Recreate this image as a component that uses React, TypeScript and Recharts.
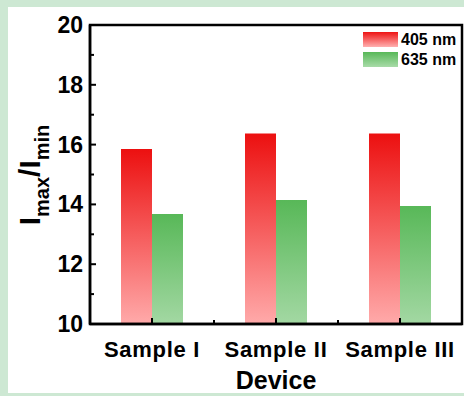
import React from "react"
import { Bar, BarChart, XAxis, YAxis } from "recharts"

const devices = ["Sample I", "Sample II", "Sample III"]
const ratio405 = [15.85, 16.37, 16.37]
const ratio635 = [13.68, 14.15, 13.95]
const yTicks = [10, 11, 12, 13, 14, 15, 16, 17, 18, 19, 20]

const data = devices.map((device, i) => ({
  device,
  nm405: ratio405[i],
  nm635: ratio635[i],
}))

const FONT = "'Liberation Sans', Arial, sans-serif"
const PLOT = { left: 82, top: 18, width: 372, height: 299 }
const BAND = PLOT.width / devices.length

function YTick(props: any) {
  const { x, y, payload } = props
  const major = payload.value % 2 === 0
  return (
    <g>
      <line x1={x} y1={y} x2={x + (major ? 6 : 4)} y2={y} stroke="#000" strokeWidth={2} />
      {major && (
        <text x={x - 7} y={y} dy={8} textAnchor="end" fontFamily={FONT} fontWeight="bold" fontSize={23} fill="#000">
          {payload.value}
        </text>
      )}
    </g>
  )
}

function XTick(props: any) {
  const { x, y, payload, index } = props
  return (
    <g>
      <line x1={x} y1={y} x2={x} y2={y - 6} stroke="#000" strokeWidth={2} />
      {index < devices.length - 1 && (
        <line x1={x + BAND / 2} y1={y} x2={x + BAND / 2} y2={y - 4} stroke="#000" strokeWidth={2} />
      )}
      <text x={x} y={y + 33} textAnchor="middle" fontFamily={FONT} fontWeight="bold" fontSize={22} letterSpacing={0.7} fill="#000">
        {payload.value}
      </text>
    </g>
  )
}

// y title plus the closed plot frame (top and right edges)
function YTitle() {
  return (
    <g>
      <rect
        x={PLOT.left}
        y={PLOT.top}
        width={PLOT.width}
        height={PLOT.height}
        fill="none"
        stroke="#000"
        strokeWidth={2.5}
      />
      <text transform="translate(32,168) rotate(-90)" textAnchor="middle" fontFamily={FONT} fontWeight="bold" fontSize={30} fill="#000">
        <tspan>I</tspan>
        <tspan fontSize={20} dy={9}>max</tspan>
        <tspan dy={-9}>/I</tspan>
        <tspan fontSize={20} dy={9}>min</tspan>
      </text>
    </g>
  )
}

function LegendBox() {
  const items = [
    { label: "405 nm", bg: "linear-gradient(#ee1414, #ffb0b0)" },
    { label: "635 nm", bg: "linear-gradient(#58b858, #a8dba8)" },
  ]
  return (
    <div style={{ position: "absolute", left: 355, top: 25, fontFamily: FONT, fontWeight: "bold", fontSize: 16, color: "#000" }}>
      {items.map((it) => (
        <div key={it.label} style={{ display: "flex", alignItems: "center", height: 15, marginBottom: 5 }}>
          <div style={{ width: 35, height: 15, background: it.bg, marginRight: 3 }} />
          <span style={{ lineHeight: "15px" }}>{it.label}</span>
        </div>
      ))}
    </div>
  )
}

export default function App() {
  return (
    <div style={{ position: "absolute", left: 0, top: 0, width: 464, height: 396, background: "#cde8d3" }}>
      <div style={{ position: "absolute", left: 8, top: 7, width: 456, height: 386, background: "#fff" }}>
        <BarChart
          width={456}
          height={386}
          data={data}
          margin={{ top: 18, right: 2, bottom: 0, left: 0 }}
          barCategoryGap="25%"
          barGap={0}
        >
          <defs>
            <linearGradient id="red" x1="0" y1="0" x2="0" y2="1">
              <stop offset="0%" stopColor="#ec1010" />
              <stop offset="100%" stopColor="#ffaaaa" />
            </linearGradient>
            <linearGradient id="green" x1="0" y1="0" x2="0" y2="1">
              <stop offset="0%" stopColor="#58b858" />
              <stop offset="100%" stopColor="#a3d8a3" />
            </linearGradient>
          </defs>
          <XAxis
            dataKey="device"
            height={69}
            tickSize={0}
            tickMargin={0}
            tickLine={false}
            axisLine={{ stroke: "#000", strokeWidth: 2.5 }}
            tick={<XTick />}
            interval={0}
            label={{ value: "Device", position: "insideBottom", offset: 4, fontFamily: FONT, fontWeight: "bold", fontSize: 25, fill: "#000" }}
          />
          <YAxis
            width={82}
            domain={[10, 20]}
            ticks={yTicks}
            allowDataOverflow
            interval={0}
            tickSize={0}
            tickMargin={0}
            tickLine={false}
            axisLine={{ stroke: "#000", strokeWidth: 2.5 }}
            tick={<YTick />}
            label={<YTitle />}
          />
          <Bar dataKey="nm405" name="405 nm" fill="url(#red)" isAnimationActive={false} />
          <Bar dataKey="nm635" name="635 nm" fill="url(#green)" isAnimationActive={false} />
        </BarChart>
        <LegendBox />
      </div>
    </div>
  )
}
